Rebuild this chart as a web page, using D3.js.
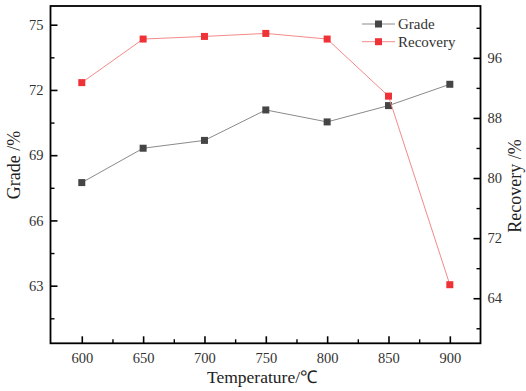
<!DOCTYPE html>
<html>
<head>
<meta charset="utf-8">
<script src="https://cdn.jsdelivr.net/npm/d3@7"></script>
<style>
body { margin: 0; background: #fff; }
</style>
</head>
<body>
<div id="chart"></div>
<script>
var temperatures = [600, 650, 700, 750, 800, 850, 900];
var grade = [67.74, 69.32, 69.68, 71.08, 70.53, 71.28, 72.26];
var recovery = [92.7, 98.5, 98.85, 99.25, 98.5, 90.9, 65.8];
var xTicks = [600, 650, 700, 750, 800, 850, 900];
var gradeTicks = [63, 66, 69, 72, 75];
var recoveryTicks = [64, 72, 80, 88, 96];

var serif = "'Liberation Serif', 'Times New Roman', serif";
var size = { width: 526, height: 391 };
var plot = { left: 50.5, top: 6, right: 480.5, bottom: 343.3 };

var svg = d3.select("#chart")
	.append("svg")
	.attr("width", size.width)
	.attr("height", size.height)
	.style("font-family", serif);

var x = d3.scaleLinear().domain([574.5, 925]).range([plot.left, plot.right]);
var yL = d3.scaleLinear().domain([60.35, 75.86]).range([plot.bottom, plot.top]);
var yR = d3.scaleLinear().domain([58, 102.9]).range([plot.bottom, plot.top]);

// minor ticks (inside)
var minorX = d3.range(625, 925, 50);
var minorL = d3.range(61.5, 76, 3);
var minorR = d3.range(60, 102, 8);

function drawAxis(axis, transform, minorAxis) {
	var g = svg.append("g").attr("transform", transform).call(axis);
	g.attr("font-family", null);
	g.select(".domain").remove();
	g.selectAll("line").attr("stroke", "#000").attr("stroke-width", 1.6);
	g.selectAll("text").attr("font-size", 14.5).attr("fill", "#333").style("font-family", serif);
	var m = svg.append("g").attr("transform", transform).call(minorAxis);
	m.select(".domain").remove();
	m.selectAll("line").attr("stroke", "#000").attr("stroke-width", 1.4);
}

drawAxis(d3.axisBottom(x).tickValues(xTicks).tickSizeInner(-7).tickSizeOuter(0).tickPadding(9),
	"translate(0," + plot.bottom + ")",
	d3.axisBottom(x).tickValues(minorX).tickSize(-4).tickFormat(""));
drawAxis(d3.axisLeft(yL).tickValues(gradeTicks).tickSizeInner(-7).tickSizeOuter(0).tickPadding(7),
	"translate(" + plot.left + ",0)",
	d3.axisLeft(yL).tickValues(minorL).tickSize(-4).tickFormat(""));
drawAxis(d3.axisRight(yR).tickValues(recoveryTicks).tickSizeInner(-7).tickSizeOuter(0).tickPadding(7),
	"translate(" + plot.right + ",0)",
	d3.axisRight(yR).tickValues(minorR).tickSize(-4).tickFormat(""));

// frame
svg.append("rect")
	.attr("x", plot.left)
	.attr("y", plot.top)
	.attr("width", plot.right - plot.left)
	.attr("height", plot.bottom - plot.top)
	.attr("fill", "none")
	.attr("stroke", "#000")
	.attr("stroke-width", 1.8);

// series
var series = [
	{ name: "Grade", values: grade, y: yL, line: "#8a8a8a", mark: "#454545" },
	{ name: "Recovery", values: recovery, y: yR, line: "#f48a8a", mark: "#ee3238" }
];

series.forEach(function(s) {
	var line = d3.line()
		.x(function(d, i) { return x(temperatures[i]); })
		.y(function(d) { return s.y(d); });
	svg.append("path")
		.datum(s.values)
		.attr("d", line)
		.attr("fill", "none")
		.attr("stroke", s.line)
		.attr("stroke-width", 1);
	svg.selectAll(null)
		.data(s.values)
		.enter()
		.append("rect")
		.attr("x", function(d, i) { return x(temperatures[i]) - 3.5; })
		.attr("y", function(d) { return s.y(d) - 3.5; })
		.attr("width", 7)
		.attr("height", 7)
		.attr("fill", s.mark);
});

// legend
var legend = svg.append("g").attr("transform", "translate(362,24)");
series.forEach(function(s, i) {
	var g = legend.append("g").attr("transform", "translate(0," + (i * 17.7) + ")");
	g.append("line").attr("x1", 0).attr("x2", 33).attr("stroke", s.line).attr("stroke-width", 1);
	g.append("rect").attr("x", 13).attr("y", -3.5).attr("width", 7).attr("height", 7).attr("fill", s.mark);
	g.append("text").attr("x", 36).attr("y", 5).attr("font-size", 15).attr("fill", "#333").text(s.name);
});

// axis titles
svg.append("text")
	.attr("transform", "translate(20,165) rotate(-90)")
	.attr("text-anchor", "middle")
	.attr("font-size", 18)
	.attr("fill", "#222")
	.text("Grade /%");
svg.append("text")
	.attr("transform", "translate(521,186) rotate(-90)")
	.attr("text-anchor", "middle")
	.attr("font-size", 18)
	.attr("fill", "#222")
	.text("Recovery /%");
svg.append("text")
	.attr("x", 262)
	.attr("y", 383)
	.attr("text-anchor", "middle")
	.attr("font-size", 17.5)
	.attr("fill", "#222")
	.text("Temperature/℃");
</script>
</body>
</html>
